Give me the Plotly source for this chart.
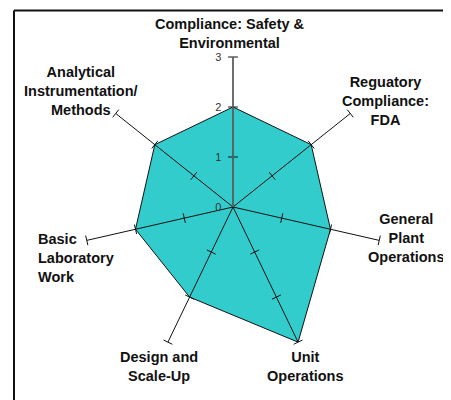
import plotly.graph_objects as go

# --- data ---
categories = [
    "Compliance: Safety & Environmental",
    "Reguatory Compliance: FDA",
    "General Plant Operations",
    "Unit Operations",
    "Design and Scale-Up",
    "Basic Laboratory Work",
    "Analytical Instrumentation/Methods",
]
scores = [2, 2, 2, 3, 2, 2, 2]
radial_ticks = [0, 1, 2, 3]

# label text as drawn (line breaks) and where it sits, in page pixels
label_lines = [
    "Compliance: Safety &<br>Environmental",
    "Reguatory<br>Compliance:<br>FDA",
    "General<br>Plant<br>Operations",
    "Unit<br>Operations",
    "Design and<br>Scale-Up",
    "Basic<br>Laboratory<br>Work",
    "Analytical<br>Instrumentation/<br>Methods",
]
label_px = [(230, 33), (385, 101), (406, 238), (305, 366), (159, 366), (36, 258), (81, 91)]
label_anchor = ["center", "center", "center", "center", "center", "left", "center"]

# page body has an 8px margin, so the figure starts at (8, 8)
OFF = 8
W, H = 451 - OFF, 400 - OFF
FILL = "#33CCCC"
INK = "#111"
FONT = "Liberation Sans, Arial, sans-serif"


def px_x(px):
    return (px - OFF) / W


def px_y(py):
    return 1 - (py - OFF) / H


n = len(categories)
fig = go.Figure()

# series polygon
fig.add_trace(go.Scatterpolar(
    r=scores + scores[:1],
    theta=categories + categories[:1],
    mode="lines",
    fill="toself",
    fillcolor=FILL,
    line=dict(color=INK, width=1),
    showlegend=False,
    hoverinfo="skip",
))

# spokes drawn over the fill
spoke_r, spoke_theta = [], []
for cat in categories:
    spoke_r += [0, radial_ticks[-1], None]
    spoke_theta += [cat, cat, None]
fig.add_trace(go.Scatterpolar(
    r=spoke_r,
    theta=spoke_theta,
    mode="lines",
    line=dict(color=INK, width=1),
    connectgaps=False,
    showlegend=False,
    hoverinfo="skip",
))

# small cross ticks on every spoke
tick_r, tick_theta, tick_angle = [], [], []
for i, cat in enumerate(categories):
    for v in radial_ticks[1:]:
        tick_r.append(v)
        tick_theta.append(cat)
        tick_angle.append(i * 360 / n)
fig.add_trace(go.Scatterpolar(
    r=tick_r,
    theta=tick_theta,
    mode="markers",
    marker=dict(symbol="line-ew", size=7, angle=tick_angle,
                line=dict(color=INK, width=1)),
    showlegend=False,
    hoverinfo="skip",
    cliponaxis=False,
))

annotations = []
for txt, (px, py), anc in zip(label_lines, label_px, label_anchor):
    annotations.append(dict(
        x=px_x(px), y=px_y(py), xref="paper", yref="paper",
        text=txt, showarrow=False, align=anc,
        xanchor=anc, yanchor="middle",
        font=dict(family=FONT, size=14.5, color=INK, weight="bold"),
    ))

shapes = [
    dict(type="line", xref="paper", yref="paper", x0=px_x(14), x1=1.0,
         y0=px_y(10.5), y1=px_y(10.5), line=dict(color="#111", width=2)),
    dict(type="line", xref="paper", yref="paper", x0=px_x(14), x1=px_x(14),
         y0=0, y1=px_y(10.5), line=dict(color="#111", width=2)),
]

fig.update_layout(
    width=W, height=H,
    margin=dict(l=0, r=0, t=0, b=0),
    paper_bgcolor="white",
    font=dict(family=FONT),
    polar=dict(
        domain=dict(x=[px_x(83), px_x(383)], y=[px_y(357), px_y(57)]),
        bgcolor="rgba(0,0,0,0)",
        angularaxis=dict(
            rotation=90, direction="clockwise",
            showline=False, showticklabels=False, ticks="",
            showgrid=False,
        ),
        radialaxis=dict(
            range=[0, 3], angle=90, side="counterclockwise",
            tickvals=radial_ticks, showgrid=False, tickangle=90,
            ticks="outside", ticklen=7, tickcolor="rgba(0,0,0,0)",
            showline=True, linecolor="#666", linewidth=1.5,
            tickfont=dict(size=11, color="#333"),
        ),
    ),
    annotations=annotations,
    shapes=shapes,
)

fig.write_html("out.html")
